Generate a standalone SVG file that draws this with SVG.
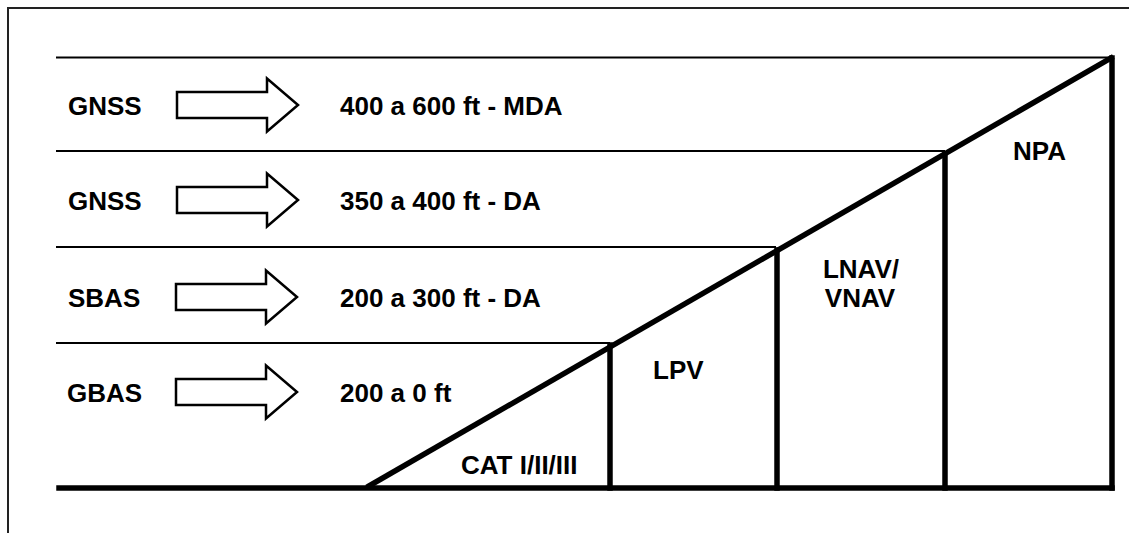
<svg xmlns="http://www.w3.org/2000/svg" width="1129" height="533" viewBox="0 0 1129 533">
<style>
.t{font-family:"Liberation Sans",Arial,sans-serif;font-weight:bold;font-size:26px;fill:#000}
.thin{stroke:#000;stroke-width:2;fill:none}
.thick{stroke:#000;stroke-width:5.5;fill:none;stroke-linecap:square}
.arr{fill:#fff;stroke:#000;stroke-width:2.5;stroke-linejoin:miter}
</style>
<defs>
<polygon id="arrow" class="arr" points="0,-13 90,-13 90,-26.5 121,0 90,26.5 90,13 0,13"/>
</defs>
<rect width="1129" height="533" fill="#fff"/>
<rect x="8" y="8" width="1200" height="600" fill="none" stroke="#222" stroke-width="2"/>
<g id="connectors">
<line class="thin" x1="56" y1="57.5" x2="1111" y2="57.5"/>
<line class="thin" x1="56" y1="151" x2="945" y2="151"/>
<line class="thin" x1="56" y1="247" x2="776" y2="247"/>
<line class="thin" x1="56" y1="343" x2="610" y2="343"/>
<line class="thick" x1="59" y1="488" x2="1112" y2="488"/>
<line class="thick" x1="369" y1="486" x2="1111" y2="58"/>
<line class="thick" x1="610" y1="345" x2="610" y2="488"/>
<line class="thick" x1="777" y1="250" x2="777" y2="488"/>
<line class="thick" x1="945" y1="154" x2="945" y2="488"/>
<line class="thick" x1="1112" y1="58" x2="1112" y2="488"/>
</g>
<g id="row-gnss-npa">
<text class="t" x="68" y="115">GNSS</text>
<use href="#arrow" x="177" y="105"/>
<text class="t" x="340" y="115">400 a 600 ft - MDA</text>
</g>
<g id="row-gnss-lnav">
<text class="t" x="68" y="210">GNSS</text>
<use href="#arrow" x="177" y="200"/>
<text class="t" x="340" y="210">350 a 400 ft - DA</text>
</g>
<g id="row-sbas">
<text class="t" x="68" y="307">SBAS</text>
<use href="#arrow" x="176" y="297"/>
<text class="t" x="340" y="307">200 a 300 ft - DA</text>
</g>
<g id="row-gbas">
<text class="t" x="67" y="402">GBAS</text>
<use href="#arrow" x="176" y="392"/>
<text class="t" x="340" y="402">200 a 0 ft</text>
</g>
<g id="cat">
<text class="t" x="461" y="474">CAT I/II/III</text>
</g>
<g id="lpv">
<text class="t" x="653" y="379">LPV</text>
</g>
<g id="lnav-vnav">
<text class="t" x="861" y="278" text-anchor="middle">LNAV/</text>
<text class="t" x="860" y="307" text-anchor="middle">VNAV</text>
</g>
<g id="npa">
<text class="t" x="1013" y="160">NPA</text>
</g>
</svg>
